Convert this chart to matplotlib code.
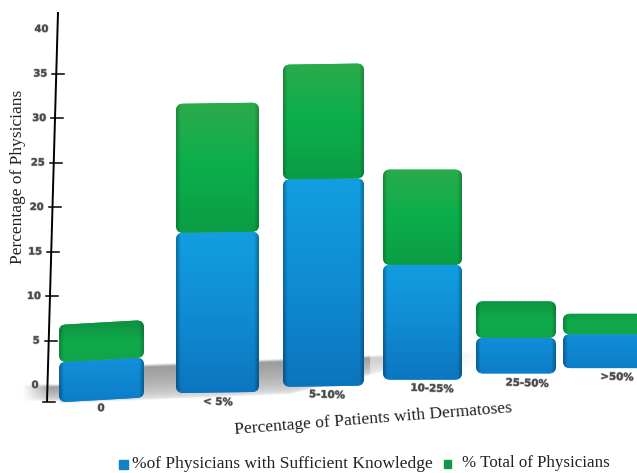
"""Stacked 3D-look bars: physician knowledge by share of dermatoses patients."""

import matplotlib
matplotlib.use('Agg')
import matplotlib.pyplot as plt
import matplotlib.patheffects as pe
from matplotlib.colors import to_rgb
from matplotlib.path import Path
from matplotlib.patches import PathPatch
import numpy as np

categories = ['0', '< 5%', '5-10%', '10-25%', '25-50%', '>50%']
knowledge_top = [2.6, 17.1, 23.1, 13.5, 5.3, 5.7]
total_top = [6.8, 31.6, 36.0, 24.2, 9.4, 8.0]
bar_floor = [-1.9, -0.9, -0.2, 0.6, 1.3, 1.9]
y_ticks = [5, 10, 15, 20, 25, 30, 35]
y_labels = [0, 5, 10, 15, 20, 25, 30, 35, 40]

# layout, pixels on the x axis
BAR_LEFT = [59, 176, 283, 383, 476, 563]
BAR_RIGHT = [144, 259, 364, 462, 556, 650]
TILT = [-4, -1, -1, 0, 0, 0]
LABEL_X = [101, 218, 327, 432, 527, 617]
LABEL_Y = [-2.6, -1.9, -1.1, -0.4, 0.2, 0.9]
PX_PER_UNIT = 8.9
Y0_PX = 385


def y_data(px):
    return (Y0_PX - px) / PX_PER_UNIT


def rounded_shape(x0, x1, y0, y1, tilt, rx=7, ry=0.8):
    """Closed path of a rounded box whose top and bottom edges lean by tilt px."""
    t = -tilt / PX_PER_UNIT
    verts = [(x0 + rx, y0), (x1 - rx, y0 + t), (x1, y0 + t), (x1, y0 + t + ry),
             (x1, y1 + t - ry), (x1, y1 + t), (x1 - rx, y1 + t), (x0 + rx, y1),
             (x0, y1), (x0, y1 - ry), (x0, y0 + ry), (x0, y0), (x0 + rx, y0)]
    codes = [Path.MOVETO, Path.LINETO, Path.CURVE3, Path.CURVE3, Path.LINETO,
             Path.CURVE3, Path.CURVE3, Path.LINETO, Path.CURVE3, Path.CURVE3,
             Path.LINETO, Path.CURVE3, Path.CURVE3]
    return Path(verts, codes)


def gradient(stops, edge_dark=0.75):
    """RGB image: vertical colour stops (top to bottom), darker at the sides."""
    pos = np.linspace(0, 1, 120)
    cols = np.array([to_rgb(c) for c in stops])
    where = np.linspace(0, 1, len(stops))
    column = np.stack([np.interp(pos, where, cols[:, i]) for i in range(3)], axis=1)
    u = np.linspace(0, 1, 60)
    side = np.minimum(1, np.minimum(u, 1 - u) / 0.05)
    side = edge_dark + (1 - edge_dark) * side
    return column[:, None, :] * side[None, :, None]


def draw_segment(ax, x0, x1, y0, y1, tilt, stops, edge_dark=0.75):
    shape = rounded_shape(x0, x1, y0, y1, tilt)
    patch = PathPatch(shape, facecolor=stops[1], edgecolor='none', zorder=3)
    ax.add_patch(patch)
    im = ax.imshow(gradient(stops, edge_dark), extent=(x0, x1, y0 - 1, y1 + 1),
                   aspect='auto', zorder=3.1, interpolation='bilinear')
    im.set_clip_path(patch)


fig = plt.figure(figsize=(6.37, 4.73), dpi=100)
ax = fig.add_axes([0, 0, 1, 1])

# soft floor shadow behind the bars: hard top edge, fading downwards
sx = np.linspace(22, 480, 400)
sy = np.linspace(345, 410, 130)
xx, yy = np.meshgrid(sx, sy)
top_edge = np.where(xx < 59, 384, 364 - (xx - 144) * 0.04)
depth = np.where(xx < 59, 17, 36 - np.clip(xx - 290, 0, 100) * 0.2)
fade = np.clip((yy - top_edge) / 3, 0, 1) * np.clip(1 - (yy - top_edge) / depth, 0, 1) ** 0.4
alpha = fade * 0.8
alpha *= np.clip((xx - 22) / 28, 0, 1) * np.clip((480 - xx) / 70, 0, 1)
alpha *= np.where(xx > 370, 0.5, 1)
# blended on white beforehand, so the image stays opaque
shadow = np.repeat((1 - 0.5 * alpha)[..., None], 3, axis=2)
ax.imshow(shadow, extent=(22, 480, y_data(410), y_data(345)), aspect='auto',
          zorder=1, interpolation='bilinear', vmin=0, vmax=1)

blue = ['#12a0e2', '#0f8cd4', '#0c72bc']
blue_short = ['#1592dc', '#0f86d0', '#0d7ac6']
green = ['#2fab4b', '#0bae4b', '#0c9a45']
green_short = ['#0d8a3e', '#10ab4b', '#0fa148']

for i in range(len(categories)):
    tall = total_top[i] > 20
    draw_segment(ax, BAR_LEFT[i], BAR_RIGHT[i], bar_floor[i], knowledge_top[i],
                 TILT[i], blue if tall else blue_short, 0.72)
    draw_segment(ax, BAR_LEFT[i], BAR_RIGHT[i], knowledge_top[i], total_top[i],
                 TILT[i], green if tall else green_short, 0.8)
    ax.text(LABEL_X[i], LABEL_Y[i], categories[i], ha='center', va='center',
            fontsize=7.4, fontweight='bold', color='#4a4a4a', rotation=-2,
            path_effects=[pe.withStroke(linewidth=1.0, foreground='#99999988')])


def axis_x(v):
    """The y axis leans: its x pixel at data value v."""
    return 47.0 + (v - y_data(402)) * (58.0 - 47.0) / (y_data(12) - y_data(402))


ax.plot([axis_x(y_data(402)), axis_x(y_data(12))], [y_data(402), y_data(12)],
        color='black', lw=1.4, zorder=4, solid_capstyle='butt')
for t in y_ticks + [y_data(402)]:
    ax.plot([axis_x(t) - 4, axis_x(t) + 8], [t, t], color='black', lw=1.1, zorder=4)

for v in y_labels:
    ax.text(axis_x(v) - 9, v, str(v), ha='right', va='center', fontsize=7.2,
            fontweight='bold', color='#4a4a4a',
            path_effects=[pe.withStroke(linewidth=1.0, foreground='#99999988')])

serif = 'Liberation Serif'
ax.text(18, y_data(177), 'Percentage of Physicians', rotation=90, ha='center',
        va='center', family=serif, fontsize=12.5, color='#222222')
ax.text(373, y_data(419), 'Percentage of Patients with Dermatoses', rotation=4.5,
        ha='center', va='center', family=serif, fontsize=12.6, color='#222222',
        rotation_mode='anchor')

# legend
ax.add_patch(plt.Rectangle((119, y_data(469)), 9, 9 / PX_PER_UNIT, color='#1282c8'))
ax.add_patch(plt.Rectangle((444, y_data(468)), 7, 8 / PX_PER_UNIT, color='#12964c'))
ax.text(132, y_data(464), '%of Physicians with Sufficient Knowledge', ha='left',
        va='center', family=serif, fontsize=12.5, color='#222222')
ax.text(462, y_data(463), '% Total of Physicians', ha='left', va='center',
        family=serif, fontsize=12.2, color='#222222')

ax.set_xlim(0, 637)
ax.set_ylim(y_data(473), y_data(0))
ax.axis('off')

fig.savefig('out.png', dpi=100, facecolor='white')
